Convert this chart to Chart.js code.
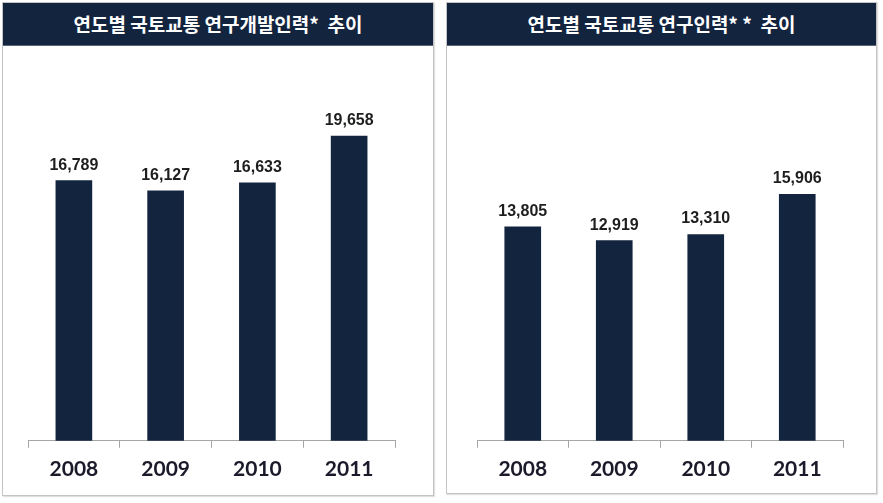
<!DOCTYPE html>
<html>
<head>
<meta charset="utf-8">
<script src="https://cdn.jsdelivr.net/npm/chart.js@4"></script>
<style>
  body { margin: 0; background: #fff; width: 883px; height: 503px; position: relative; overflow: hidden; }
  .panel { position: absolute; border: 1px solid #c4c4c4; box-shadow: 1px 1px 1px #e0e0e0; background: #fff; }
  .head { position: absolute; left: 0; right: 0; top: 0; height: 42px; background: #13243f;
          color: #fff; font: bold 19px "Noto Sans CJK KR", sans-serif; text-align: center;
          line-height: 42px; white-space: pre; border-bottom: 1px solid #5a6478; }
  canvas { position: absolute; }
</style>
</head>
<body>
<div class="panel" id="p1" style="left:2px; top:2px; width:430px; height:492px;">
  <div class="head">연도별 국토교통 연구개발인력*  추이</div>
  <canvas id="c1" width="429" height="448" style="left:0; top:44px;"></canvas>
</div>
<div class="panel" id="p2" style="left:446px; top:2px; width:429px; height:490px;">
  <div class="head">연도별 국토교통 연구인력* *  추이</div>
  <canvas id="c2" width="428" height="446" style="left:0; top:44px;"></canvas>
</div>
<script>
const years = ['2008', '2009', '2010', '2011'];
const rndStaff = [16789, 16127, 16633, 19658];
const researchers = [13805, 12919, 13310, 15906];

const valueLabels = {
  id: 'valueLabels',
  afterDatasetsDraw(chart) {
    const ctx = chart.ctx;
    const meta = chart.getDatasetMeta(0);
    const values = chart.data.datasets[0].data;
    ctx.save();
    ctx.font = 'bold 16px "Liberation Sans", Arial, sans-serif';
    ctx.fillStyle = '#1e1e1e';
    ctx.textAlign = 'center';
    ctx.textBaseline = 'alphabetic';
    meta.data.forEach((bar, i) => {
      ctx.fillText(values[i].toLocaleString('en-US'), bar.x, bar.y - 11);
    });
    ctx.restore();
  }
};

function makeChart(id, values, pad) {
  return new Chart(document.getElementById(id), {
    type: 'bar',
    data: {
      labels: years,
      datasets: [{ data: values, backgroundColor: '#13243f', barThickness: 36 }]
    },
    options: {
      responsive: false,
      animation: false,
      layout: { padding: pad },
      plugins: { legend: { display: false }, tooltip: { enabled: false } },
      scales: {
        x: {
          grid: { offset: true, drawOnChartArea: false, tickLength: 7, color: '#a6a6a6' },
          border: { display: true, color: '#a6a6a6' },
          ticks: { padding: 9, color: '#1a1a2a', font: { family: 'Lato', weight: 'bold', size: 21 } }
        },
        y: { display: false, min: 0, max: 24500 }
      }
    },
    plugins: [valueLabels]
  });
}

makeChart('c1', rndStaff, { left: 25, right: 37, top: 14, bottom: 4 });
makeChart('c2', researchers, { left: 30, right: 32, top: 14, bottom: 2 });
</script>
</body>
</html>
